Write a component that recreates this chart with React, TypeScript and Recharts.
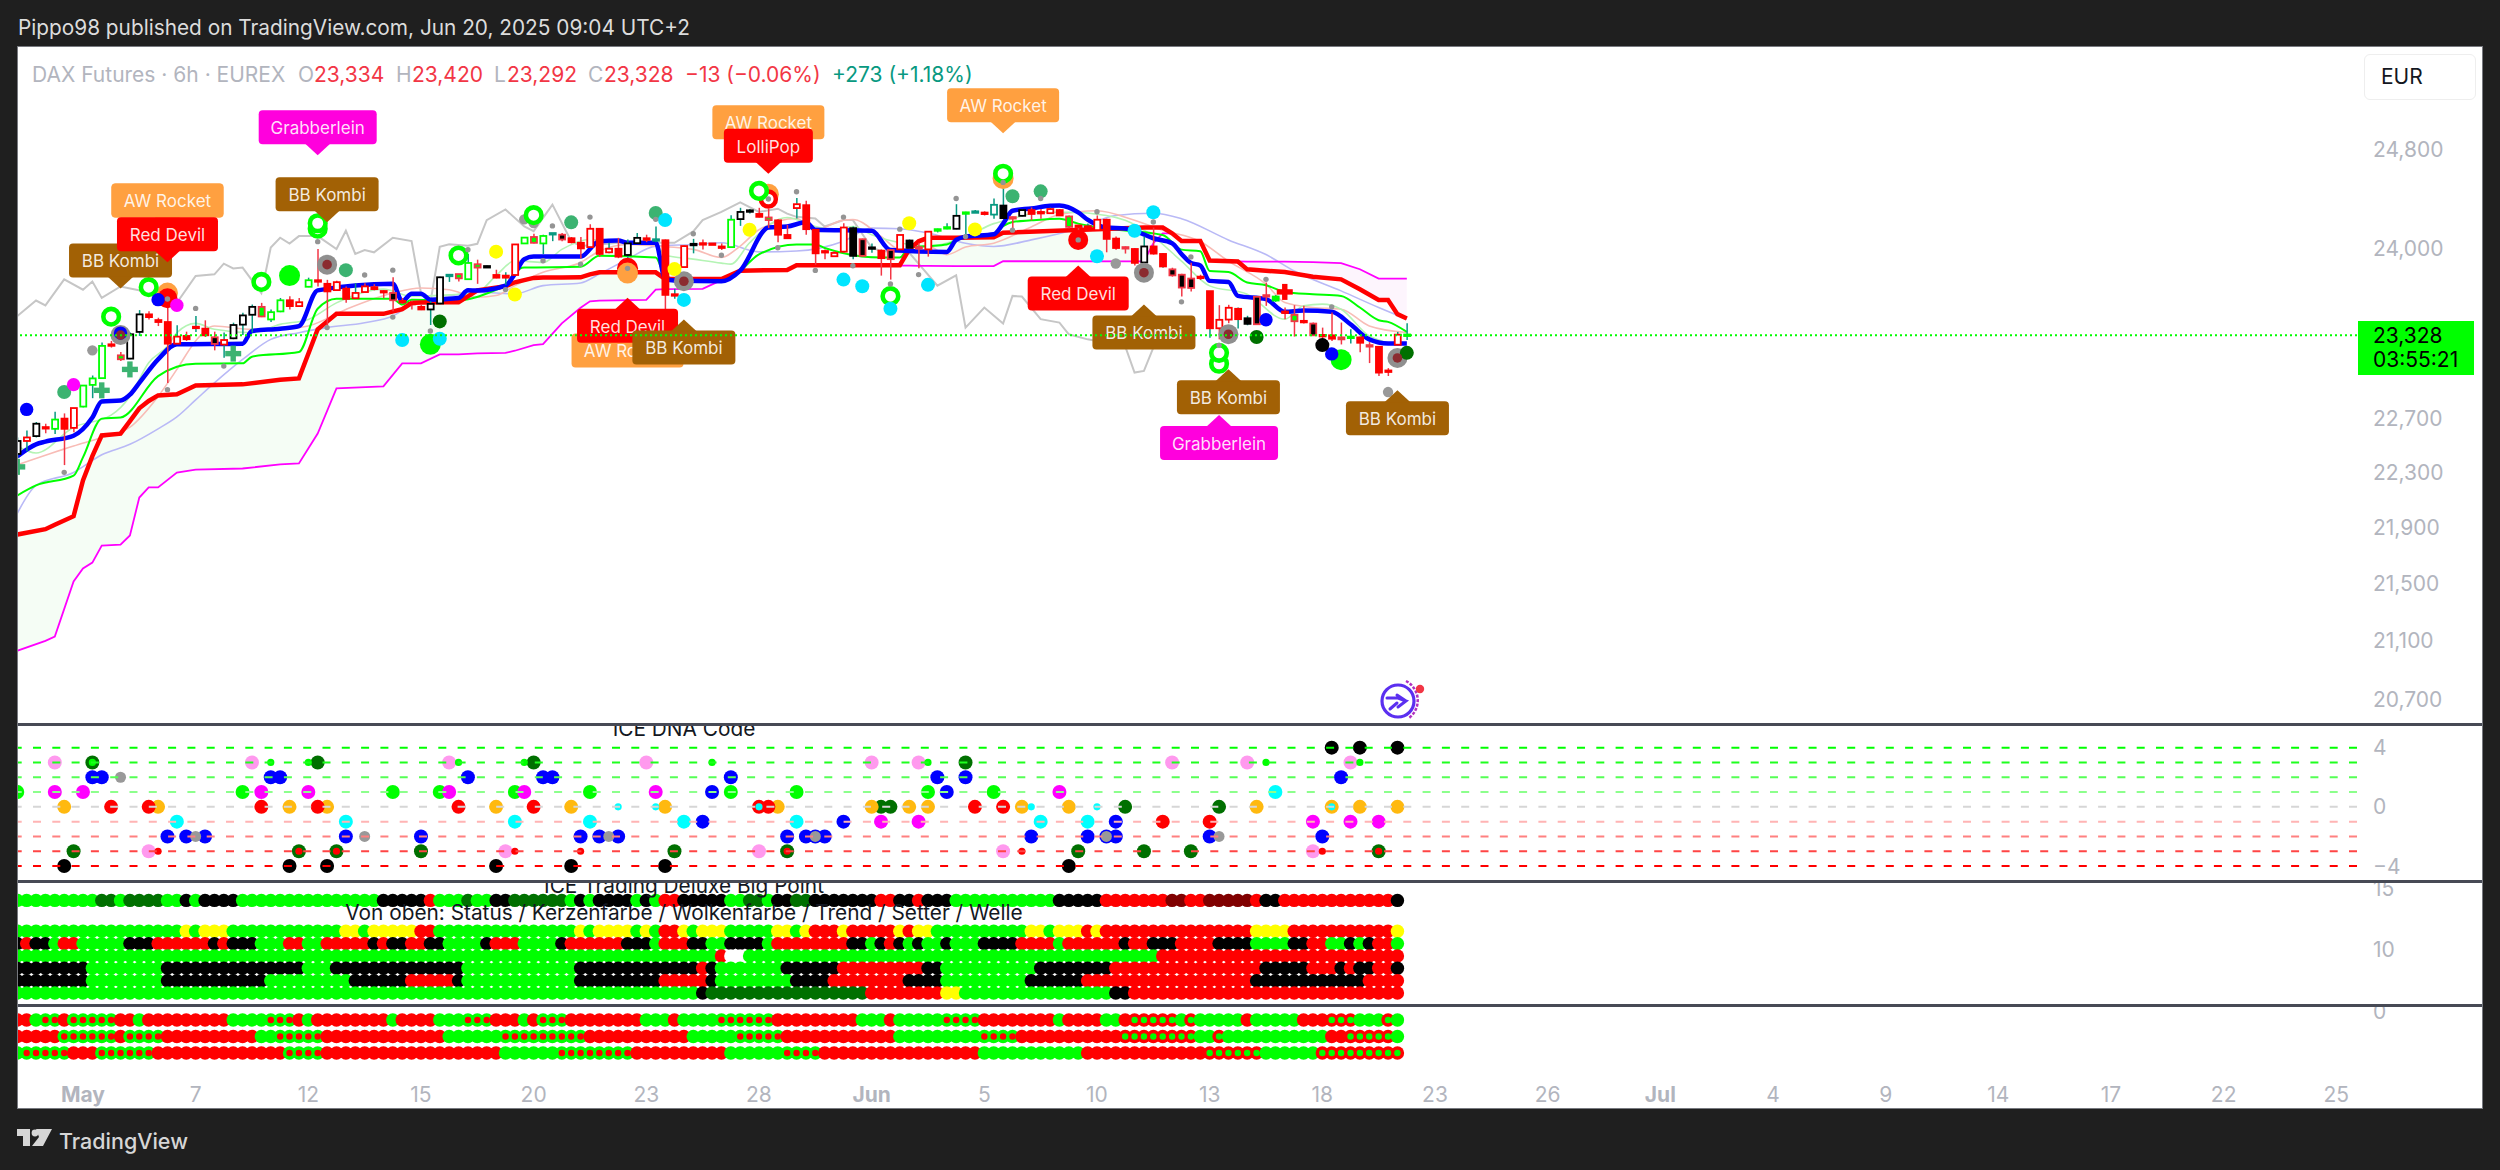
import React from 'react';
import { ComposedChart, Bar, Line, Area, Scatter, XAxis, YAxis, ReferenceLine } from 'recharts';

// candle values, first bar is index -7
const firstBar = -7;
const opens = [22436,22532,22568,22635,22622,22698,22629,22788,22951,23002,23259,23175,23150,23354,23489,23445,23430,23264,23323,23394,23379,23313,23257,23305,23410,23486,23547,23450,23512,23598,23553,23703,23754,23726,23677,23688,23614,23662,23700,23670,23655,23593,23578,23547,23527,23573,23790,23802,23762,23879,23865,23795,23790,23795,24043,24094,24043,24115,24112,24084,24048,24014,24159,23973,24001,23952,24045,24084,24071,24068,23645,23857,24032,24045,24043,24019,24014,24236,24298,24277,24249,24226,24110,24324,24347,24151,23983,23942,23978,24164,23945,24012,23986,23919,23996,24066,24014,23996,24143,24166,24159,24285,24298,24283,24272,24344,24244,24262,24308,24293,24283,24308,24257,24185,24179,24148,24231,24081,24007,23999,23893,24019,23960,23839,23797,23694,23782,23669,23382,23449,23532,23459,23413,23638,23627,23511,23485,23439,23418,23331,23328,23297,23318,23312,23253,23240,23060,23256,23334];
const highs = [22558,22609,22673,22660,22749,22737,22777,22946,23022,23272,23285,23201,23349,23522,23514,23463,23578,23405,23356,23476,23443,23356,23349,23425,23502,23565,23578,23527,23616,23629,23616,23774,23999,23757,23749,23706,23731,23731,23723,23675,23777,23616,23591,23565,23591,23782,23797,23802,23960,23915,23870,23836,23816,24035,24089,24120,24112,24125,24125,24094,24094,24195,24164,24048,24087,24074,24125,24112,24177,24074,23687,24027,24079,24074,24045,24043,24267,24326,24316,24326,24319,24234,24190,24404,24383,24156,23996,23983,24203,24177,24081,24043,23996,23996,24112,24074,24048,24138,24160,24203,24355,24295,24308,24298,24401,24510,24257,24316,24329,24316,24329,24316,24265,24190,24200,24265,24239,24097,24019,24007,24097,24169,23968,23852,23805,23890,23797,23669,23560,23563,23542,23478,23627,23736,23638,23542,23560,23555,23426,23387,23503,23426,23374,23318,23276,23245,23078,23354,23420];
const lows = [22405,22456,22558,22589,22584,22354,22596,22782,22851,22997,23234,23132,23145,23323,23450,23399,22966,23259,23285,23354,23315,23213,23157,23298,23331,23349,23468,23430,23506,23527,23547,23700,23706,23400,23675,23578,23609,23660,23675,23614,23514,23570,23527,23522,23407,23568,23741,23744,23762,23726,23850,23769,23718,23790,24043,24043,23958,24061,24061,24043,23924,24009,23937,23965,23927,23893,24043,24053,24053,23338,23609,23852,23965,23996,24035,23991,24012,24182,24280,24249,24164,24053,24081,24241,24112,23875,23919,23937,23970,23919,23939,23970,23790,23759,23991,24001,23847,23939,24130,24156,24154,24110,24288,24265,24239,24239,24154,24257,24226,24239,24277,24262,24161,24110,24143,24143,23973,23994,23963,23870,23885,23955,23852,23782,23627,23666,23756,23310,23297,23421,23380,23405,23411,23555,23586,23452,23318,23418,23323,23297,23284,23258,23266,23199,23116,23018,23018,23251,23292];
const closes = [22532,22558,22660,22624,22691,22622,22777,22946,23000,23247,23249,23145,23336,23489,23468,23430,23264,23318,23298,23384,23328,23262,23292,23407,23481,23547,23473,23506,23598,23553,23583,23754,23744,23667,23739,23609,23655,23706,23685,23662,23598,23583,23570,23527,23570,23777,23797,23769,23889,23853,23857,23774,23774,24035,24089,24048,24102,24125,24074,24053,24004,24159,23960,24001,23939,24043,24087,24071,24076,23640,23635,24022,24040,24037,24037,24012,24231,24293,24306,24254,24228,24112,24084,24355,24156,23965,23976,23968,24169,23945,24076,24004,23927,23991,24110,24009,24006,24136,24156,24172,24262,24290,24290,24288,24350,24244,24252,24308,24277,24285,24316,24265,24174,24177,24148,24231,24079,24007,24014,23890,24019,23963,23862,23792,23697,23767,23774,23382,23447,23540,23452,23416,23625,23630,23596,23503,23436,23431,23328,23323,23302,23312,23307,23271,23245,23044,23052,23333,23328];
// R red, r red with teal wick, G green, K black hollow, B black with red edge, M red edge lime inside, T teal, D black dash, L lime
const candleKinds = 'KrKRGRRGGGRMKKRRRrRrRBrKKKMGGRRGRRRRrRRRBRRRKKTMGMDRrRGMGTBRRRRrRKKRTRrRDRRRGKDRMRRrRRRRRKBKRBrKMRGLDGTRTKBDRRrRMRrRRRBRDRrBBBRrRRrKBBGRMRBRRMLRMRRrGR'.split('');

const blueLine = [[-7,22418],[-5,22507],[-4,22527],[-1,22571],[1,22706],[2,22826],[4,22833],[5,22877],[6,22966],[8,23144],[10,23259],[17,23264],[18,23361],[21,23379],[23,23399],[25,23675],[33,23726],[34,23591],[35,23649],[36,23649],[37,23603],[40,23616],[41,23675],[42,23674],[45,23712],[46,23803],[47,23919],[48,23939],[53,23939],[55,24061],[57,24066],[58,24048],[61,24048],[62,23764],[63,23751],[68,23746],[70,23829],[73,24169],[75,24177],[77,24210],[78,24151],[84,24143],[86,23991],[92,23976],[93,24071],[94,24097],[97,24115],[98,24200],[99,24303],[101,24321],[103,24342],[104,24345],[106,24290],[107,24231],[109,24169],[111,24161],[112,24143],[114,24084],[116,24045],[117,23960],[118,23890],[119,23870],[120,23749],[122,23741],[123,23632],[126,23607],[128,23509],[130,23519],[133,23509],[135,23413],[137,23297],[139,23266],[141,23266]];
const greenLine = [[-7,22132],[-5,22205],[-1,22277],[0,22411],[2,22698],[4,22706],[8,23017],[10,23088],[12,23111],[17,23114],[18,23165],[23,23200],[25,23532],[27,23609],[33,23609],[34,23565],[35,23603],[40,23598],[44,23680],[45,23712],[46,23816],[47,23854],[53,23859],[55,23945],[61,23932],[62,23790],[64,23751],[68,23751],[70,23829],[72,23957],[76,24035],[78,24035],[79,24007],[85,23932],[87,23932],[88,24009],[90,24022],[92,24035],[94,24102],[97,24110],[98,24179],[99,24213],[101,24226],[104,24239],[106,24200],[109,24161],[115,24110],[117,23994],[119,23981],[120,23826],[122,23818],[124,23736],[126,23715],[128,23663],[131,23645],[134,23632],[136,23542],[138,23444],[139,23431],[141,23354]];
const paleGreenLine = [[-7,22494],[-5,22443],[-1,22634],[3,22724],[5,22864],[7,23119],[9,23246],[10,23348],[12,23420],[14,23374],[18,23348],[21,23412],[24,23450],[27,23578],[32,23685],[35,23629],[39,23640],[42,23661],[44,23790],[46,23906],[49,23893],[51,23996],[54,24074],[58,24048],[61,24035],[62,23950],[65,23919],[68,23888],[69,23880],[71,24048],[75,24249],[78,24177],[80,24151],[82,24177],[84,24112],[87,24048],[90,24022],[94,24097],[97,24200],[99,24239],[102,24290],[105,24290],[109,24265],[111,24226],[114,24097],[117,23903],[120,23710],[124,23645],[128,23452],[130,23555],[132,23568],[134,23529],[137,23323],[140,23266],[141,23272]];
const salmonLine = [[-7,22355],[-1,22494],[2,22558],[5,22634],[8,22864],[10,23068],[12,23285],[14,23399],[18,23374],[21,23374],[24,23399],[28,23527],[33,23654],[36,23693],[39,23680],[42,23622],[44,23635],[46,23712],[49,23816],[53,23893],[55,23983],[58,24035],[61,24022],[65,23996],[68,23932],[70,24022],[72,24151],[76,24241],[78,24151],[81,24228],[82,24233],[85,24099],[87,23996],[90,24022],[92,23955],[94,24014],[97,24045],[101,24174],[104,24272],[108,24303],[112,24226],[115,24148],[119,24058],[122,23903],[126,23723],[128,23581],[131,23542],[134,23529],[137,23400],[141,23349]];
const lavenderLine = [[-7,22002],[-5,22205],[-1,22300],[2,22430],[5,22507],[8,22622],[10,22711],[12,22838],[14,22966],[17,23144],[20,23297],[23,23348],[26,23387],[30,23425],[33,23476],[35,23565],[39,23630],[42,23661],[46,23648],[49,23712],[53,23733],[55,23803],[58,23919],[61,24022],[65,24035],[68,24048],[72,23976],[76,23983],[81,24061],[84,24164],[87,24159],[90,24125],[94,24045],[97,24019],[101,24071],[106,24161],[110,24265],[114,24283],[117,24239],[122,24071],[126,23955],[129,23826],[134,23671],[138,23542],[141,23452]];
const laggingLine = [[-7,23476],[-5,23596],[-4,23558],[-2,23761],[0,23680],[1,23744],[2,23616],[4,23705],[7,23660],[10,23578],[12,23787],[14,23800],[15,23884],[16,23846],[17,23853],[19,23654],[20,24011],[21,24088],[22,24042],[23,24101],[25,24101],[27,23999],[28,24144],[29,23960],[30,23991],[31,23973],[33,24088],[35,24062],[36,23654],[37,23578],[38,24017],[39,24037],[41,24024],[42,24040],[43,24228],[45,24313],[47,24177],[48,24140],[50,24352],[52,24061],[53,24022],[55,24035],[57,24048],[63,24048],[65,24138],[66,24228],[68,24293],[70,24370],[72,24293],[74,24319],[75,24280],[76,24254],[78,24241],[79,24177],[81,24228],[82,24228],[84,24009],[85,23983],[88,23970],[91,23712],[93,23792],[94,23387],[96,23542],[98,23418],[99,23632],[100,23627],[102,23452],[104,23426],[105,23336],[107,23297],[111,23245],[112,23044],[113,23057],[114,23233],[115,23328]];

// the cloud edges share their indexes so the fill can use both
const cloudIdx = [-7,-4,-3,-1,0,1,2,4,5,6,7,8,10,12,17,21,23,25,27,32,34,35,36,38,40,42,45,46,48,49,51,53,54,55,60,61,62,66,68,70,75,76,87,88,89,90,93,97,98,113,114,115,116,117,119,120,123,124,128,131,134,136,138,139,140,141];
const redCloud = [21850,21888,21920,21982,22241,22420,22573,22586,22680,22775,22830,22872,22880,22947,22955,22990,23000,23374,23493,23493,23530,23577,23580,23582,23582,23675,23707,23738,23772,23775,23776,23777,23800,23816,23816,23816,23764,23764,23764,23829,23834,23872,23872,23996,24060,24087,24087,24092,24128,24169,24169,24169,24123,24063,24063,23908,23901,23839,23818,23782,23761,23684,23601,23601,23491,23457];
const magentaCloud = [21031,21100,21130,21516,21607,21649,21770,21777,21843,22117,22191,22191,22299,22321,22329,22359,22366,22587,22924,22940,23114,23114,23114,23182,23182,23190,23193,23210,23253,23261,23420,23540,23590,23596,23601,23681,23684,23687,23755,23829,23834,23872,23868,23868,23867,23867,23865,23865,23903,23901,24045,24123,24123,24063,24063,23908,23901,23900,23899,23896,23888,23840,23767,23767,23767,23767];

// signal dots on the price pane, [bar, price]
const grayBig = [[4,23330],[26,23876],[64,23746],[113,23813],[122,23336],[140,23155]];
const darkCenters = [[4,23330],[26,23876],[64,23746],[113,23813],[122,23336],[140,23155]];
const orangeBig = [[9,23654],[58,23810],[73,24435],[98,24561]];
const redBig = [[9,23614],[106,24071]];
const redBehind = [[58,23847]];
const redRing = [[73,24396]];
const limeRings = [[3,23471],[7,23700],[19,23741],[25,24160],[25,24203],[40,23948],[48,24267],[72,24461],[86,23630],[98,24600],[121,23111],[121,23194]];
const limeBig = [[22,23790],[37,23259],[134,23142]];
const blueDots = [[-6,22767],[4,23345],[8,23603],[126,23447],[133,23186]];
const magentaDots = [[-1,22953],[10,23560]];
const seaDots = [[-2,22897],[28,23833],[52,24210],[61,24285],[99,24419],[102,24458]];
const yellowDots = [[44,23978],[46,23643],[63,23841],[71,24151],[88,24203],[95,24154]];
const cyanDots = [[34,23292],[38,23302],[62,24228],[64,23601],[81,23759],[83,23707],[90,23718],[86,23532],[108,23942],[112,24143],[114,24290]];
const darkGreenDots = [[38,23435],[125,23315],[141,23194]];
const blackDots = [[132,23253]];
const grayMid = [[1,23213],[47,24234],[48,24205],[110,23885],[139,22897]];
const graySmall = [[-2,22301],[9,22915],[9,23608],[12,23535],[15,23093],[25,24057],[26,23387],[30,23795],[33,23833],[33,23468],[37,23361],[41,23994],[45,23681],[49,23906],[50,24182],[53,23880],[54,24252],[58,23847],[61,24234],[65,24120],[68,23950],[73,24396],[74,24009],[76,24455],[78,23831],[81,24252],[82,23867],[86,23725],[87,24156],[89,23798],[93,24401],[94,24097],[98,24530],[99,24148],[102,24401],[106,24071],[108,24295],[114,24213],[117,23586],[118,23937],[121,23251],[126,23761],[133,23547]];
const seaCrosses = [[-7,22341],[2,22910],[5,23068],[16,23188]];
const redCrosses = [[128,23663]];

const flagTexts = ['AW Rocket','BB Kombi','AW Rocket','Red Devil','Grabberlein','BB Kombi','AW Rocket','LolliPop','AW Rocket','AW Rocket','Red Devil','BB Kombi','Red Devil','BB Kombi','BB Kombi','Grabberlein','BB Kombi'];
const flagBars = [9,4,9,9,25,26,73,73,98,58,58,64,106,113,122,121,140];
const flagPrices = [24162,23690,24162,23894,24749,24210,24790,24599,24929,23427,23617,23450,23870,23566,23070,22725,22910];
const flagBelow = [false,false,false,false,false,false,false,false,false,true,true,true,true,true,true,true,true];

// ICE DNA Code, [bar, level]
const dnaPink = [[-3,3],[18,3],[39,3],[60,3],[84,3],[89,3],[116,3],[124,3],[135,3],[7,-3],[45,-3],[72,-3],[98,-3],[131,-3]];
const dnaDark = [[1,3],[25,3],[48,3],[94,3],[-1,-3],[23,-3],[27,-3],[36,-3],[63,-3],[75,-3],[106,-3],[113,-3],[118,-3],[138,-3],[85,0],[86,0],[111,0],[121,0]];
const dnaLime = [[-7,1],[17,1],[33,1],[38,1],[46,1],[54,1],[69,1],[76,1],[90,1],[97,1]];
const dnaBlue = [[1,2],[2,2],[20,2],[21,2],[41,2],[49,2],[50,2],[69,2],[91,2],[94,2],[134,2],[67,1],[92,1],[66,-1],[81,-1],[110,-1],[9,-2],[11,-2],[13,-2],[28,-2],[36,-2],[53,-2],[55,-2],[57,-2],[75,-2],[77,-2],[78,-2],[79,-2],[101,-2],[107,-2],[109,-2],[110,-2],[120,-2],[132,-2]];
const dnaGray = [[4,2],[12,-2],[30,-2],[56,-2],[78,-2],[109,-2],[121,-2]];
const dnaMagenta = [[-3,1],[0,1],[19,1],[24,1],[39,1],[47,1],[61,1],[104,1],[85,-1],[89,-1],[131,-1],[135,-1],[138,-1]];
const dnaAmber = [[-2,0],[8,0],[22,0],[26,0],[44,0],[52,0],[62,0],[74,0],[84,0],[88,0],[90,0],[100,0],[105,0],[125,0],[133,0],[136,0],[140,0]];
const dnaRed = [[3,0],[7,0],[19,0],[25,0],[40,0],[48,0],[72,0],[73,0],[95,0],[98,0],[115,-1],[120,-1]];
const dnaCyan = [[127,1],[10,-1],[28,-1],[46,-1],[54,-1],[64,-1],[76,-1],[102,-1],[107,-1]];
const dnaBlack = [[-2,-4],[22,-4],[26,-4],[44,-4],[52,-4],[62,-4],[105,-4],[133,4],[136,4],[140,4]];
const dnaLimeSmall = [[1,3],[20,3],[24,3],[40,3],[47,3],[67,3],[90,3],[126,3],[136,3]];
const dnaCyanSmall = [[57,0],[61,0],[72,0],[101,0],[108,0],[133,0]];
const dnaRedSmall = [[8,-3],[23,-3],[27,-3],[46,-3],[53,-3],[75,-3],[100,-3],[132,-3],[138,-3]];
const dnaLevels = [4,3,2,1,0,-1,-2,-3,-4];
const dnaLevelColors = ['#00ff00','#1eff1e','#55ff55','#8cff8c','#d6d6d6','#ffb4b4','#ff8080','#ff4545','#ff0000'];

// dot rows as runs of colour + count, starting at bar -7
const bigPointRow = 'g9 d2 g1 d4 g2 k1 g1 k4 g15 k5 r1 g3 d1 g2 k2 d6 g1 k1 g1 k4 g1 k1 g1 r2 k5 g2 d2 g1 k2 d2 k7 r2 k2 r1 k3 g11 k5 r7 m2 r2 m5 r1 k2 r12 k1';
const statusRow = 'g18 y1 g1 y3 g12 y2 g1 y5 r2 g15 y1 g1 y4 g1 y1 g1 r2 y1 g1 y3 g5 y2 g1 y1 r3 y1 r5 y1 r1 y2 g10 y2 g1 y3 r1 y1 r16 y4 r11 y1';
const candleRow = 'k1 r1 k2 g1 r2 g5 k3 r6 k1 r1 k3 g3 r2 g2 r5 k1 r1 k2 r2 k2 g4 k1 r3 g4 k1 r6 k3 g1 r3 k2 g2 k4 g1 r8 k2 g1 k1 r1 k1 g1 k1 g2 k1 g3 k4 r4 g1 r6 k1 r2 k3 r4 k4 g4 k2 r2 g2 k1 g1 k1 r2 g1';
const cloudRow = 'g75 r1 w2 g44 r26';
const trendRow = 'k8 g8 k15 g3 k14 g12 k13 r1 k1 g7 k6 r9 k2 g10 k8 r16 k5 r3 k1 r1 k2 r2 k1';
const setterRow = 'k8 g8 k11 g9 k6 r5 k1 g12 k9 r5 k1 g8 k4 r8 k4 g9 k6 r18 k12 r4';
const waveRow = 'g73 k1 d17 r8 y2 g16 k2 r29';
const deluxeRows = [bigPointRow, statusRow, candleRow, cloudRow, trendRow, setterRow, waveRow];
const deluxeLevels = [14, 11.5, 10.5, 9.5, 8.5, 7.5, 6.5];

const momentumRows = [
  'r2 g3 r1 g5 r2 g1 r9 g7 r1 g1 r8 g1 r4 g6 r3 g1 r1 g3 r8 g3 r1 g10 r9 g3 r1 g9 r8 g1 r4 g2 r6 g1 r1 g5 r1 g5 r6 g3 r1 g1',
  'r5 g6 r1 g4 r10 g7 r13 g15 r11 g10 r12 g13 r19 g2 r1 g11 r7 g1',
  'g6 r3 g6 r14 g4 r19 g14 r10 g10 r17 g11 r19 g6 r9',
];
const momentumLevels = [-0.5, -1.5, -2.5];
// bars with the small inner dot, [from, to]
const momentumInner = [
  [[-4,-3],[-1,3],[20,22],[41,43],[49,51],[68,73],[92,95],[112,116],[118,118],[133,135],[139,139]],
  [[-2,3],[5,8],[21,25],[45,53],[70,74],[96,99],[111,118],[121,121],[135,139]],
  [[-6,-2],[2,7],[22,25],[51,58],[75,78],[120,125],[132,140]],
];

const priceTicks = [24800,24000,22700,22300,21900,21500,21100,20700];
const timeTickBars = [0,12,24,36,48,60,72,84,96,108,120,132,144,156,168,180,192,204,216,228,240];
const timeTickLabels = ['May','7','12','15','20','23','28','Jun','5','10','13','18','23','26','Jul','4','9','14','17','22','25'];
const monthLabels = ['May','Jun','Jul'];

const FONT = 'Inter, "Noto Sans", sans-serif';
const AXIS_GRAY = '#b2b5be';
const barDomain = [-6.92, 242.2];
const CHART_W = 2464;
const AXIS_W = 125;

const runColors: Record<string, string> = { g: '#00ff00', d: '#007000', k: '#000000', r: '#ff0000', m: '#800000', y: '#ffff00', w: '#ffffff' };
const flagColors: Record<string, string> = { 'AW Rocket': '#ffa040', 'Red Devil': '#ff0000', LolliPop: '#ff0000', 'BB Kombi': '#a26105', Grabberlein: '#ff00dd' };
const flagWidths: Record<string, number> = { 'AW Rocket': 112, 'Red Devil': 101, LolliPop: 89, 'BB Kombi': 103, Grabberlein: 118 };

const toPts = (rows: number[][]) => rows.map(([i, p]) => ({ i, p }));

const expandRuns = (runs: string, level: number) => {
  const pts: { i: number; p: number; c: string }[] = [];
  let i = firstBar;
  runs.split(' ').forEach((run) => {
    const n = Number(run.slice(1));
    for (let k = 0; k < n; k++) pts.push({ i: i++, p: level, c: runColors[run[0]] });
  });
  return pts;
};

const candleRows = opens.map((o, k) => ({
  i: firstBar + k,
  range: [lows[k], highs[k]],
  open: o,
  high: highs[k],
  low: lows[k],
  close: closes[k],
  kind: candleKinds[k],
}));

const cloudRows = cloudIdx.map((i, k) => ({ i, red: redCloud[k], magenta: magentaCloud[k], range: [magentaCloud[k], redCloud[k]] }));
const cloudSplit = cloudIdx.indexOf(113);

const candleStyle: Record<string, { edge: string; wick: string; fill?: string }> = {
  R: { edge: '#ff0000', wick: '#f23645' },
  r: { edge: '#ff0000', wick: '#089981' },
  G: { edge: '#00ff00', wick: '#089981' },
  K: { edge: '#000000', wick: '#089981' },
  B: { edge: '#f23645', wick: '#f23645', fill: '#000000' },
  M: { edge: '#f23645', wick: '#f23645', fill: '#00ff00' },
  T: { edge: '#089981', wick: '#089981' },
  D: { edge: '#000000', wick: '#089981' },
  L: { edge: '#00ff00', wick: '#089981', fill: '#00ff00' },
};

// the bar only spans low..high, open and close are placed inside it on the log scale
const CandleShape = (props: any) => {
  const { x, y, width, height, payload } = props;
  const { open, high, low, close, kind } = payload;
  const cx = x + width / 2;
  const span = Math.log(high / low) || 1;
  const yOf = (v: number) => y + (height * Math.log(high / v)) / span;
  const top = yOf(Math.max(open, close));
  const bottom = yOf(Math.min(open, close));
  const st = candleStyle[kind];
  const up = close > open;
  const fill = st.fill ?? (up ? '#ffffff' : st.edge);
  return (
    <g>
      <line x1={cx} x2={cx} y1={y} y2={y + height} stroke={st.wick} strokeWidth={1.5} />
      <rect x={cx - 3} y={top} width={6} height={Math.max(bottom - top, 1.5)} fill={fill} stroke={st.edge} strokeWidth={1.8} />
    </g>
  );
};

const dotShape = (color: string, r: number) => (p: any) => <circle cx={p.cx} cy={p.cy} r={r} fill={color} />;
const ringShape = (color: string, r: number, w: number) => (p: any) => (
  <circle cx={p.cx} cy={p.cy} r={r} fill="#ffffff" stroke={color} strokeWidth={w} />
);
const crossShape = (color: string) => (p: any) => (
  <g fill={color}>
    <rect x={p.cx - 8} y={p.cy - 2.7} width={16} height={5.4} />
    <rect x={p.cx - 2.7} y={p.cy - 8} width={5.4} height={16} />
  </g>
);
const runDot = (r: number) => (p: any) => <circle cx={p.cx} cy={p.cy} r={r} fill={p.payload.c} />;

const FlagShape = (p: any) => {
  const { t, below } = p.payload;
  const w = flagWidths[t];
  const h = 34;
  const tip = 11;
  const boxY = below ? p.cy + tip : p.cy - tip - h;
  const arrowBase = below ? p.cy + tip + 1 : p.cy - tip - 1;
  return (
    <g>
      <rect x={p.cx - w / 2} y={boxY} width={w} height={h} rx={4} fill={flagColors[t]} />
      <path d={`M${p.cx - 13} ${arrowBase}L${p.cx} ${p.cy}L${p.cx + 13} ${arrowBase}Z`} fill={flagColors[t]} />
      <text x={p.cx} y={boxY + h / 2 + 1} textAnchor="middle" dominantBaseline="central" fontFamily={FONT} fontSize={17} fill="#ffffff" fillOpacity={0.88}>
        {t}
      </text>
    </g>
  );
};

const flagRows = flagTexts.map((t, k) => ({ i: flagBars[k], p: flagPrices[k], t, below: flagBelow[k] }));

const markerLayers: { data: number[][]; shape: any }[] = [
  { data: redBehind, shape: dotShape('#ff0000', 10.5) },
  { data: orangeBig, shape: dotShape('#ffa040', 10.5) },
  { data: redBig, shape: dotShape('#ff0000', 10) },
  { data: redRing, shape: ringShape('#ff0000', 7.5, 4.5) },
  { data: grayBig, shape: dotShape('#8f8f8f', 10) },
  { data: grayMid, shape: dotShape('#999999', 5.2) },
  { data: limeBig, shape: dotShape('#00ff00', 10.5) },
  { data: limeRings, shape: ringShape('#00ff00', 7.8, 4.6) },
  { data: seaDots, shape: dotShape('#3cb371', 7) },
  { data: yellowDots, shape: dotShape('#ffff00', 7) },
  { data: cyanDots, shape: dotShape('#00e5ff', 7) },
  { data: blueDots, shape: dotShape('#0000ff', 6.7) },
  { data: magentaDots, shape: dotShape('#ff00ff', 6.7) },
  { data: darkGreenDots, shape: dotShape('#007000', 7) },
  { data: blackDots, shape: dotShape('#000000', 7) },
  { data: darkCenters, shape: dotShape('#8b2b30', 4.8) },
  { data: graySmall, shape: dotShape('#949494', 2.7) },
  { data: seaCrosses, shape: crossShape('#3cb371') },
  { data: redCrosses, shape: crossShape('#ff0000') },
];

const dnaLayers: { data: number[][]; color: string; r: number }[] = [
  { data: dnaPink, color: '#ff99ee', r: 7 },
  { data: dnaDark, color: '#007000', r: 7 },
  { data: dnaLime, color: '#00ff00', r: 7 },
  { data: dnaBlue, color: '#0000ff', r: 7 },
  { data: dnaGray, color: '#999999', r: 5.5 },
  { data: dnaMagenta, color: '#ff00ff', r: 7 },
  { data: dnaAmber, color: '#ffb90f', r: 7 },
  { data: dnaRed, color: '#ff0000', r: 7 },
  { data: dnaCyan, color: '#00ffff', r: 7 },
  { data: dnaBlack, color: '#000000', r: 7 },
  { data: dnaLimeSmall, color: '#00ff00', r: 3.6 },
  { data: dnaCyanSmall, color: '#00ffff', r: 3.6 },
  { data: dnaRedSmall, color: '#ff0000', r: 3.6 },
];

const axisTick = { fill: AXIS_GRAY, fontSize: 21, fontFamily: FONT };
const formatPrice = (v: number) => v.toLocaleString('en-US');
const formatSmall = (v: number) => (v < 0 ? `\u2212${Math.abs(v)}` : `${v}`);

const TimeTick = (p: any) => {
  const k = timeTickBars.indexOf(p.payload.value);
  const label = timeTickLabels[k];
  return (
    <text x={p.x} y={p.y + 14} textAnchor="middle" dominantBaseline="central" fontFamily={FONT} fontSize={21} fontWeight={monthLabels.includes(label) ? 700 : 400} fill={AXIS_GRAY}>
      {label}
    </text>
  );
};

const paneStyle = (top: number, height: number): React.CSSProperties => ({ position: 'absolute', left: 18, top, width: CHART_W, height, overflow: 'hidden' });
const paneTitle = (top: number, text: string) => (
  <div style={{ position: 'absolute', left: 0, width: 1332, top, textAlign: 'center', fontFamily: FONT, fontSize: 20.8, lineHeight: '26px', color: '#131722', whiteSpace: 'nowrap' }}>{text}</div>
);
const dividerStyle = (top: number): React.CSSProperties => ({ position: 'absolute', left: 18, top, width: CHART_W, height: 2.5, background: '#474a55' });

const legendBits: [number, string, string][] = [
  [32, 'DAX Futures \u00b7 6h \u00b7 EUREX', AXIS_GRAY],
  [298, 'O', AXIS_GRAY],
  [314, '23,334', '#f23645'],
  [396, 'H', AXIS_GRAY],
  [412, '23,420', '#f23645'],
  [494, 'L', AXIS_GRAY],
  [507, '23,292', '#f23645'],
  [588, 'C', AXIS_GRAY],
  [604, '23,328', '#f23645'],
  [685, '\u221213 (\u22120.06%)', '#f23645'],
  [832, '+273 (+1.18%)', '#089981'],
];

export default function App() {
  const cloudUp = cloudRows.slice(0, cloudSplit + 1);
  const cloudDown = cloudRows.slice(cloudSplit);
  return (
    <div style={{ position: 'absolute', left: 0, top: 0, width: 2500, height: 1170, background: '#1f1f1f', overflow: 'hidden' }}>
      <div style={{ position: 'absolute', left: 18, top: 15, fontFamily: FONT, fontSize: 20.8, lineHeight: '26px', color: '#dcdcdc', whiteSpace: 'nowrap' }}>
        Pippo98 published on TradingView.com, Jun 20, 2025 09:04 UTC+2
      </div>
      <div style={{ position: 'absolute', left: 18, top: 47, width: CHART_W, height: 1061, background: '#ffffff', boxShadow: '0 0 0 1px #77797f' }} />

      <div style={paneStyle(47, 677)}>
        <ComposedChart width={CHART_W} height={677} data={candleRows} margin={{ top: 0, right: 0, bottom: 0, left: 0 }}>
          <XAxis dataKey="i" type="number" domain={barDomain} allowDataOverflow hide />
          <YAxis orientation="right" width={AXIS_W} scale="log" domain={[20531, 25646]} allowDataOverflow ticks={priceTicks} interval={0} tick={axisTick} tickFormatter={formatPrice} axisLine={false} tickLine={false} tickSize={0} tickMargin={16} />
          <Area data={cloudUp} dataKey="range" stroke="none" fill="#eefcee" isAnimationActive={false} />
          <Area data={cloudDown} dataKey="range" stroke="none" fill="#fbeefb" isAnimationActive={false} />
          <Line data={toPts(laggingLine)} dataKey="p" stroke="#c6c6c6" strokeWidth={2} dot={false} isAnimationActive={false} zIndex={210} />
          <Line data={toPts(lavenderLine)} type="monotone" dataKey="p" stroke="#b9b9f6" strokeWidth={1.6} dot={false} isAnimationActive={false} zIndex={210} />
          <Line data={toPts(salmonLine)} type="monotone" dataKey="p" stroke="#f8bcb6" strokeWidth={1.6} dot={false} isAnimationActive={false} zIndex={210} />
          <Line data={toPts(paleGreenLine)} type="monotone" dataKey="p" stroke="#b4f4b4" strokeWidth={1.6} dot={false} isAnimationActive={false} zIndex={210} />
          <Line data={cloudRows} dataKey="magenta" stroke="#ff00ff" strokeWidth={1.8} dot={false} isAnimationActive={false} zIndex={210} />
          <Line data={toPts(greenLine)} type="monotone" dataKey="p" stroke="#00ff00" strokeWidth={2} dot={false} isAnimationActive={false} zIndex={210} />
          <Line data={cloudRows} dataKey="red" stroke="#ff0000" strokeWidth={4.5} dot={false} isAnimationActive={false} zIndex={210} />
          <Line data={toPts(blueLine)} type="monotone" dataKey="p" stroke="#0000ff" strokeWidth={4.5} dot={false} isAnimationActive={false} zIndex={210} />
          <Bar dataKey="range" barSize={8} shape={CandleShape} isAnimationActive={false} />
          {markerLayers.map((layer, k) => (
            <Scatter key={k} data={toPts(layer.data)} dataKey="p" shape={layer.shape} isAnimationActive={false} />
          ))}
          <Scatter data={flagRows} dataKey="p" shape={FlagShape} isAnimationActive={false} />
          <ReferenceLine y={23328} stroke="#00ff00" strokeWidth={2} strokeDasharray="2 3" zIndex={2000} />
        </ComposedChart>
      </div>

      <div style={paneStyle(725, 156)}>
        {paneTitle(-9, 'ICE DNA Code')}
        <ComposedChart width={CHART_W} height={156} data={toPts(dnaBlack)} margin={{ top: 0, right: 0, bottom: 0, left: 0 }} style={{ position: 'absolute', left: 0, top: 0 }}>
          <XAxis dataKey="i" type="number" domain={barDomain} allowDataOverflow hide />
          <YAxis orientation="right" width={AXIS_W} domain={[-5.01, 5.53]} allowDataOverflow ticks={[4, 0, -4]} interval={0} tick={axisTick} tickFormatter={formatSmall} axisLine={false} tickLine={false} tickSize={0} tickMargin={16} />
          {dnaLayers.map((layer, k) => (
            <Scatter key={k} data={toPts(layer.data)} dataKey="p" shape={dotShape(layer.color, layer.r)} isAnimationActive={false} />
          ))}
          {dnaLevels.map((lv, k) => (
            <ReferenceLine key={lv} y={lv} stroke={dnaLevelColors[k]} strokeWidth={2} strokeDasharray="8 11.3" zIndex={2000} />
          ))}
        </ComposedChart>
      </div>

      <div style={paneStyle(882, 123)}>
        <ComposedChart width={CHART_W} height={123} data={toPts(dnaBlack)} margin={{ top: 0, right: 0, bottom: 0, left: 0 }} style={{ position: 'absolute', left: 0, top: 0 }}>
          <XAxis dataKey="i" type="number" domain={barDomain} allowDataOverflow hide />
          <YAxis orientation="right" width={AXIS_W} domain={[5.53, 15.49]} allowDataOverflow ticks={[15, 10]} interval={0} tick={axisTick} axisLine={false} tickLine={false} tickSize={0} tickMargin={16} />
          {deluxeRows.map((row, k) => (
            <Scatter key={k} data={expandRuns(row, deluxeLevels[k])} dataKey="p" shape={runDot(6.7)} isAnimationActive={false} />
          ))}
        </ComposedChart>
        {paneTitle(-9, 'ICE Trading Deluxe Big Point')}
        {paneTitle(18, 'Von oben: Status / Kerzenfarbe / Wolkenfarbe / Trend / Setter / Welle')}
      </div>

      <div style={paneStyle(1006, 102)}>
        {paneTitle(-19, 'Momentum Status Indikator')}
        <ComposedChart width={CHART_W} height={102} data={timeTickBars.map((i) => ({ i }))} margin={{ top: 0, right: 0, bottom: 0, left: 0 }} style={{ position: 'absolute', left: 0, top: 0 }}>
          <XAxis dataKey="i" type="number" domain={barDomain} allowDataOverflow ticks={timeTickBars} interval={0} height={36} axisLine={false} tickLine={false} tick={TimeTick} />
          <YAxis orientation="right" width={AXIS_W} domain={[-3.65, 0.348]} allowDataOverflow ticks={[0]} interval={0} tick={axisTick} axisLine={false} tickLine={false} tickSize={0} tickMargin={16} />
          {momentumRows.map((row, k) => (
            <Scatter key={k} data={expandRuns(row, momentumLevels[k])} dataKey="p" shape={runDot(6.7)} isAnimationActive={false} />
          ))}
          {momentumRows.map((row, k) => {
            const outer = expandRuns(row, momentumLevels[k]);
            const inner = outer
              .filter((d) => momentumInner[k].some(([a, b]) => d.i >= a && d.i <= b))
              .map((d) => ({ ...d, c: d.c === runColors.g ? runColors.r : runColors.g }));
            return <Scatter key={`in${k}`} data={inner} dataKey="p" shape={runDot(3.2)} isAnimationActive={false} />;
          })}
        </ComposedChart>
      </div>

      <div style={dividerStyle(723)} />
      <div style={dividerStyle(880)} />
      <div style={dividerStyle(1004)} />

      {legendBits.map(([left, text, color], k) => (
        <div key={k} style={{ position: 'absolute', left, top: 62, fontFamily: FONT, fontSize: 21, lineHeight: '26px', color, whiteSpace: 'nowrap' }}>{text}</div>
      ))}

      <div style={{ position: 'absolute', left: 2364, top: 54, width: 112, height: 46, boxSizing: 'border-box', border: '1px solid #eeeeee', borderRadius: 6, background: '#ffffff', fontFamily: FONT, fontSize: 21, lineHeight: '44px', paddingLeft: 16, color: '#131722' }}>EUR</div>
      <div style={{ position: 'absolute', left: 2358, top: 321, width: 116, height: 54, background: '#00ff00', fontFamily: FONT, fontSize: 21, color: '#000000', paddingLeft: 15, boxSizing: 'border-box', lineHeight: '24px', paddingTop: 3 }}>
        23,328
        <br />
        03:55:21
      </div>

      <svg style={{ position: 'absolute', left: 1373, top: 676 }} width={60} height={48}>
        <circle cx={25} cy={25} r={16} fill="none" stroke="#5b2ff0" strokeWidth={3.2} />
        <path d="M14 22L25 22L33 25L25 31M33 25L24 19M17 33L24 27" fill="none" stroke="#5b2ff0" strokeWidth={3} strokeLinecap="round" />
        <path d="M33 5A22 22 0 0 1 36 42" fill="none" stroke="#b030c0" strokeWidth={2.5} strokeDasharray="3 1.5" />
        <circle cx={47} cy={13} r={4.2} fill="#f23645" />
      </svg>
      <svg style={{ position: 'absolute', left: 16, top: 1129 }} width={40} height={22}>
        <path d="M1 0H14V17H7V7H1ZM20 0H36L27 17H16L23 8Z" fill="#d6d6d6" />
        <circle cx={19} cy={4} r={3.4} fill="#d6d6d6" />
      </svg>
      <div style={{ position: 'absolute', left: 59, top: 1127, fontFamily: FONT, fontSize: 21.5, fontWeight: 500, lineHeight: '28px', color: '#d6d6d6' }}>TradingView</div>
    </div>
  );
}
